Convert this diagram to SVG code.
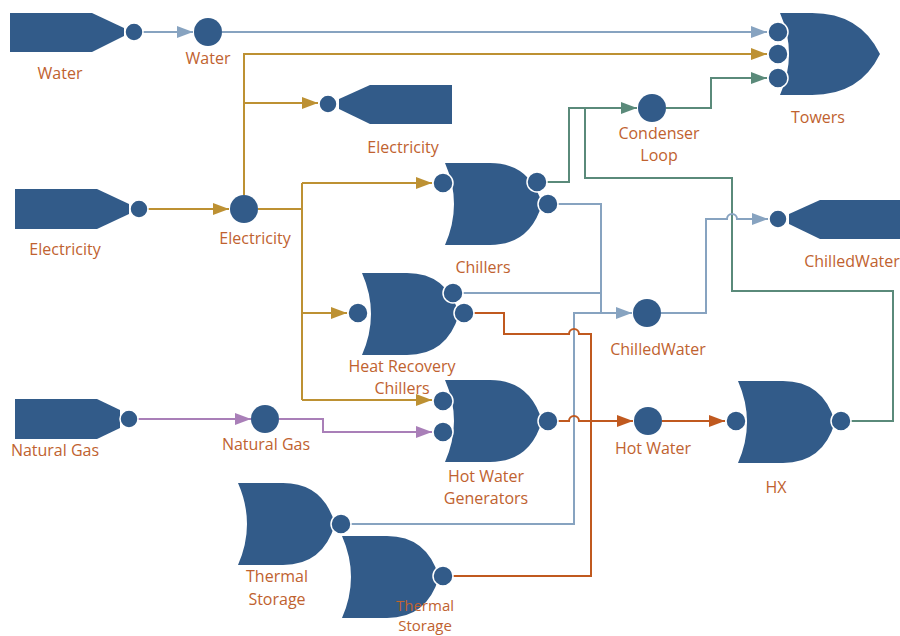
<svg xmlns="http://www.w3.org/2000/svg" width="900" height="636" viewBox="0 0 900 636">
<defs>
<style>
.shape{fill:#325B89}
.port{fill:#325B89;stroke:#fff;stroke-width:1.5}
.node{fill:#325B89}
.lbl{font-family:"Open Sans","Noto Sans",sans-serif;font-size:16px;fill:#C0622F;text-anchor:middle}
.c{fill:none;stroke-width:2}
.blue{stroke:#87A3C0}
.gold{stroke:#BD9133}
.green{stroke:#5A8A7A}
.purple{stroke:#A97FB8}
.orange{stroke:#C0591F}
</style>
<marker id="aBlue" viewBox="0 0 16 12" refX="16" refY="6" markerWidth="16" markerHeight="12" markerUnits="userSpaceOnUse" orient="auto"><path d="M0,0 L16,6 L0,12 Z" fill="#87A3C0"/></marker>
<marker id="aGold" viewBox="0 0 16 12" refX="16" refY="6" markerWidth="16" markerHeight="12" markerUnits="userSpaceOnUse" orient="auto"><path d="M0,0 L16,6 L0,12 Z" fill="#BD9133"/></marker>
<marker id="aGreen" viewBox="0 0 16 12" refX="16" refY="6" markerWidth="16" markerHeight="12" markerUnits="userSpaceOnUse" orient="auto"><path d="M0,0 L16,6 L0,12 Z" fill="#5A8A7A"/></marker>
<marker id="aPurple" viewBox="0 0 16 12" refX="16" refY="6" markerWidth="16" markerHeight="12" markerUnits="userSpaceOnUse" orient="auto"><path d="M0,0 L16,6 L0,12 Z" fill="#A97FB8"/></marker>
<marker id="aOrange" viewBox="0 0 16 12" refX="16" refY="6" markerWidth="16" markerHeight="12" markerUnits="userSpaceOnUse" orient="auto"><path d="M0,0 L16,6 L0,12 Z" fill="#C0591F"/></marker>
</defs>
<rect width="900" height="636" fill="#fff"/>

<g id="connectors">
<path class="c blue" d="M143,32 H193" marker-end="url(#aBlue)"/>
<path class="c blue" d="M222,32 H767" marker-end="url(#aBlue)"/>
<path class="c gold" d="M148,209 H229" marker-end="url(#aGold)"/>
<path class="c gold" d="M244,195 V54 H767" marker-end="url(#aGold)"/>
<path class="c gold" d="M244,103 H318" marker-end="url(#aGold)"/>
<path class="c gold" d="M258,209 H302"/>
<path class="c gold" d="M302,183 V400"/>
<path class="c gold" d="M302,183 H432" marker-end="url(#aGold)"/>
<path class="c gold" d="M302,313 H347" marker-end="url(#aGold)"/>
<path class="c gold" d="M302,400 H432" marker-end="url(#aGold)"/>
<path class="c green" d="M547,182 H569 V108 H637" marker-end="url(#aGreen)"/>
<path class="c green" d="M851,421 H893 V291 H732 V178 H585 V108"/>
<path class="c green" d="M666,108 H711 V78 H767" marker-end="url(#aGreen)"/>
<path class="c blue" d="M558,204 H601 V313"/>
<path class="c blue" d="M463,293 H601"/>
<path class="c blue" d="M351,524 H574 V313 H632" marker-end="url(#aBlue)"/>
<path class="c blue" d="M661,313 H706 V219 H727 A5,5 0 0 1 737,219 H768" marker-end="url(#aBlue)"/>
<path class="c purple" d="M138,419 H251" marker-end="url(#aPurple)"/>
<path class="c purple" d="M279,419 H323 V432 H432" marker-end="url(#aPurple)"/>
<path class="c orange" d="M474,313 H504 V334 H569 A5,5 0 0 1 579,334 H591 V421"/>
<path class="c orange" d="M453,576 H591 V421"/>
<path class="c orange" d="M558,421 H569 A5,5 0 0 1 579,421 H633" marker-end="url(#aOrange)"/>
<path class="c orange" d="M662,421 H725" marker-end="url(#aOrange)"/>
</g>

<g id="src-water">
<polygon class="shape" points="10,13 92,13 124,28 124,36 92,52 10,52"/>
<circle class="port" cx="134" cy="32" r="9"/>
<text class="lbl" x="60" y="79">Water</text>
</g>
<g id="node-water">
<circle class="node" cx="208" cy="32" r="14"/>
<text class="lbl" x="208" y="64">Water</text>
</g>
<g id="towers">
<path class="shape" d="M780,13 H812 Q860,13 880,54 Q860,95 812,95 H780 Q798,54 780,13 Z"/>
<circle class="port" cx="778" cy="32" r="10"/>
<circle class="port" cx="778" cy="54" r="10"/>
<circle class="port" cx="778" cy="78" r="10"/>
<text class="lbl" x="818" y="123">Towers</text>
</g>
<g id="sink-electricity">
<polygon class="shape" points="339,99 370,85 452,85 452,124 370,124 339,109"/>
<circle class="port" cx="328" cy="104" r="9"/>
<text class="lbl" x="403" y="153">Electricity</text>
</g>
<g id="src-electricity">
<polygon class="shape" points="15,189 97,189 129,204 129,214 97,229 15,229"/>
<circle class="port" cx="139" cy="209" r="9"/>
<text class="lbl" x="65" y="255">Electricity</text>
</g>
<g id="node-electricity">
<circle class="node" cx="244" cy="209" r="14"/>
<text class="lbl" x="255" y="244">Electricity</text>
</g>
<g id="node-condenser">
<circle class="node" cx="652" cy="108" r="14"/>
<text class="lbl" x="659" y="139">Condenser</text>
<text class="lbl" x="659" y="161">Loop</text>
</g>
<g id="chillers">
<path class="shape" d="M445,163 H490 Q530,163 542,204 Q530,245 490,245 H445 Q463,204 445,163 Z"/>
<circle class="port" cx="443" cy="183" r="10"/>
<circle class="port" cx="537" cy="182" r="10"/>
<circle class="port" cx="548" cy="204" r="10"/>
<text class="lbl" x="483" y="273">Chillers</text>
</g>
<g id="sink-chilledwater">
<polygon class="shape" points="789,214 820,200 902,200 902,239 820,239 789,224"/>
<circle class="port" cx="778" cy="219" r="9"/>
<text class="lbl" x="852" y="267">ChilledWater</text>
</g>
<g id="hrc">
<path class="shape" d="M362,273 H407 Q447,273 459,314 Q447,355 407,355 H362 Q380,314 362,273 Z"/>
<circle class="port" cx="358" cy="313" r="10"/>
<circle class="port" cx="453" cy="293" r="10"/>
<circle class="port" cx="464" cy="313" r="10"/>
<text class="lbl" x="402" y="372">Heat Recovery</text>
<text class="lbl" x="402" y="394">Chillers</text>
</g>
<g id="node-chilledwater">
<circle class="node" cx="647" cy="313" r="14"/>
<text class="lbl" x="658" y="355">ChilledWater</text>
</g>
<g id="src-naturalgas">
<polygon class="shape" points="15,399 97,399 120,410 120,428 97,439 15,439"/>
<circle class="port" cx="129" cy="419" r="9"/>
<text class="lbl" x="55" y="456">Natural Gas</text>
</g>
<g id="node-naturalgas">
<circle class="node" cx="265" cy="419" r="14"/>
<text class="lbl" x="266" y="450">Natural Gas</text>
</g>
<g id="hwg">
<path class="shape" d="M445,380 H490 Q530,380 542,421 Q530,462 490,462 H445 Q463,421 445,380 Z"/>
<circle class="port" cx="443" cy="401" r="10"/>
<circle class="port" cx="443" cy="432" r="10"/>
<circle class="port" cx="548" cy="421" r="10"/>
<text class="lbl" x="486" y="482">Hot Water</text>
<text class="lbl" x="486" y="504">Generators</text>
</g>
<g id="node-hotwater">
<circle class="node" cx="648" cy="421" r="14"/>
<text class="lbl" x="653" y="454">Hot Water</text>
</g>
<g id="hx">
<path class="shape" d="M738,381 H783 Q823,381 835,422 Q823,463 783,463 H738 Q756,422 738,381 Z"/>
<circle class="port" cx="736" cy="421" r="10"/>
<circle class="port" cx="841" cy="421" r="10"/>
<text class="lbl" x="776" y="493">HX</text>
</g>
<g id="thermal-storage-1">
<path class="shape" d="M238,483 H283 Q323,483 335,524 Q323,565 283,565 H238 Q256,524 238,483 Z"/>
<circle class="port" cx="341" cy="524" r="10"/>
<text class="lbl" x="277" y="582">Thermal</text>
<text class="lbl" x="277" y="605">Storage</text>
</g>
<g id="thermal-storage-2">
<path class="shape" d="M342,536 H387 Q427,536 439,577 Q427,618 387,618 H342 Q360,577 342,536 Z"/>
<circle class="port" cx="443" cy="576" r="10"/>
<text class="lbl" x="425" y="611" style="font-size:15px">Thermal</text>
<text class="lbl" x="425" y="631" style="font-size:15px">Storage</text>
</g>
</svg>
